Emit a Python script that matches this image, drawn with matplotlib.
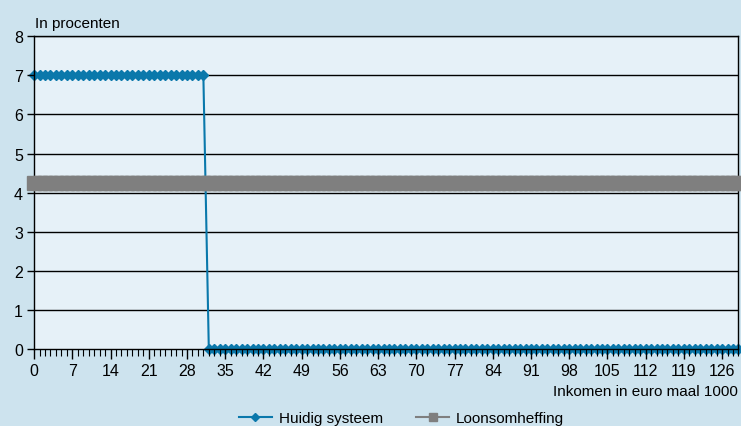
import numpy as np
import matplotlib.pyplot as plt
from matplotlib.lines import Line2D
from matplotlib.ticker import MultipleLocator

plt.rcParams['font.family'] = ['Liberation Sans', 'DejaVu Sans']

# data (inkomen in euro maal 1000, percentages)
inkomen = list(range(0, 130))
huidig_systeem = [7.0] * 32 + [0.0] * 98
loonsomheffing = [4.25] * 130
tick_labels = list(range(0, 127, 7))
y_ticks = list(range(0, 9))

BG_OUTER = '#cde3ee'
BG_INNER = '#e6f1f8'
BLUE = '#0a78ab'
GREY = '#7f7f7f'

fig = plt.figure(figsize=(7.41, 4.27), dpi=100, facecolor=BG_OUTER)
ax = fig.add_axes([0.046, 0.180, 0.9506, 0.733])
ax.set_facecolor(BG_INNER)

# gridlines below the series, ticks/spines above the blue one
for yv in y_ticks[1:]:
    ax.axhline(yv, color='black', linewidth=1, zorder=1)

ax.plot(inkomen, loonsomheffing, color=GREY, marker='s', markersize=10,
        linewidth=1.5, clip_on=False, zorder=3)
ax.plot(inkomen, huidig_systeem, color=BLUE, marker='D', markersize=5,
        linewidth=1.5, clip_on=False, zorder=2.1)
ax.set_axisbelow(False)

ax.set_xlim(0, 129)
ax.set_ylim(0, 8)
ax.set_xticks(tick_labels)
ax.set_xticklabels([str(t) for t in tick_labels])
ax.xaxis.set_minor_locator(MultipleLocator(1))
ax.set_yticks(y_ticks)

ax.tick_params(axis='both', labelsize=11.5, colors='black', direction='out')
ax.tick_params(axis='x', which='major', length=7, width=1, pad=3)
ax.tick_params(axis='x', which='minor', length=5, width=0.8)
ax.tick_params(axis='y', length=5, width=1, pad=3)
for side in ['left', 'bottom', 'right', 'top']:
    ax.spines[side].set_color('black')
    ax.spines[side].set_linewidth(1)

fig.text(0.047, 0.944, 'In procenten', fontsize=11, ha='left', va='center')
fig.text(0.996, 0.083, 'Inkomen in euro maal 1000', fontsize=11,
         ha='right', va='center')

# legend proxies with the smaller markers used in the key
handles = [
    Line2D([], [], color=BLUE, marker='D', markersize=4.5, linewidth=1.5),
    Line2D([], [], color=GREY, marker='s', markersize=6, linewidth=1.5),
]
labels = ['Huidig systeem', 'Loonsomheffing']
fig.legend(handles, labels, loc='center',
           bbox_to_anchor=(0.542, 0.018), ncol=2, frameon=False,
           fontsize=11, handlelength=2.15, columnspacing=2.2,
           handletextpad=0.45, borderaxespad=0, borderpad=0)

fig.savefig('out.png', dpi=100, facecolor=BG_OUTER)
